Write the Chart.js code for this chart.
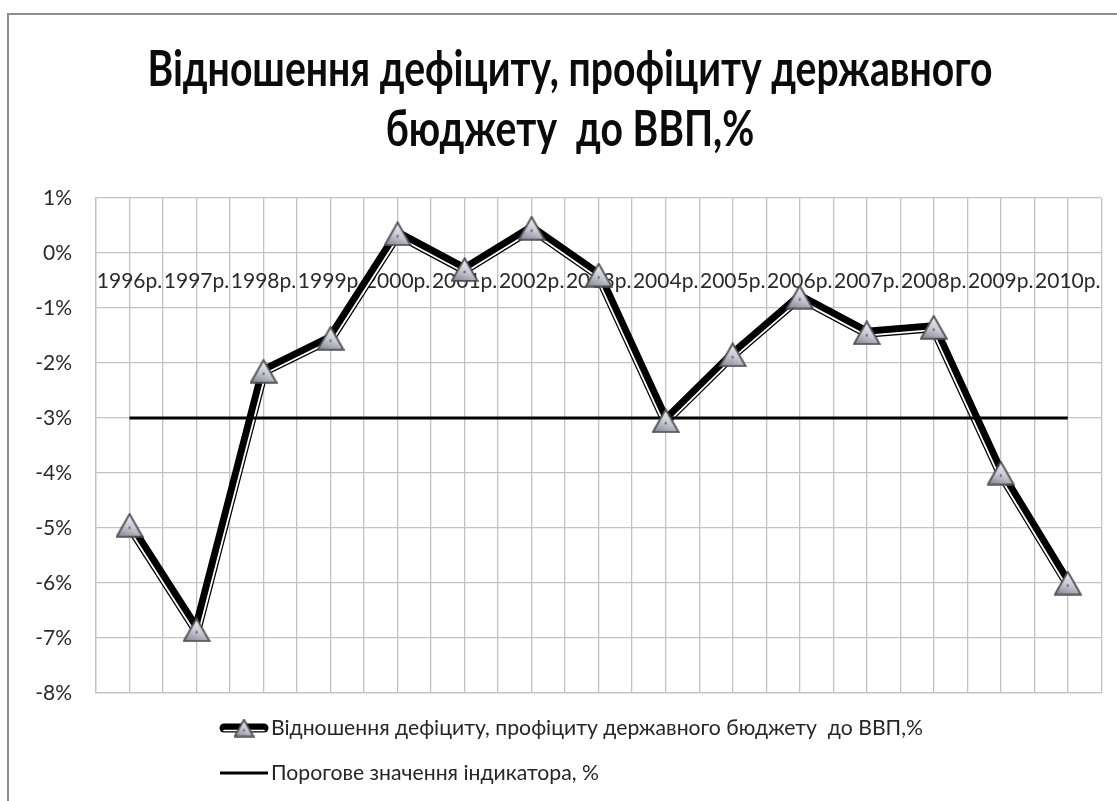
<!DOCTYPE html>
<html lang="uk">
<head>
<meta charset="UTF-8">
<title>Відношення дефіциту, профіциту державного бюджету до ВВП</title>
<script src="https://cdn.jsdelivr.net/npm/chart.js"></script>
<style>
  html, body { margin: 0; padding: 0; background: #fff; overflow: hidden; }
  #wrap { position: relative; width: 1117px; height: 801px; }
  #frame { position: absolute; left: 7px; top: 13px; width: 1200px; height: 900px;
           border-left: 2px solid #8d8d8d; border-top: 2px solid #8d8d8d; pointer-events: none; }
</style>
</head>
<body>
<div id="wrap">
  <canvas id="chart"></canvas>
  <div id="frame"></div>
</div>
<script>
// --- data ---
var years = ['1996р.', '1997р.', '1998р.', '1999р.', '2000р.', '2001р.', '2002р.', '2003р.',
             '2004р.', '2005р.', '2006р.', '2007р.', '2008р.', '2009р.', '2010р.'];
var deficit = [-4.95, -6.85, -2.15, -1.55, 0.35, -0.3, 0.45, -0.4,
               -3.05, -1.85, -0.8, -1.45, -1.35, -4.0, -6.0];
var threshold = [-3, -3, -3, -3, -3, -3, -3, -3, -3, -3, -3, -3, -3, -3, -3];
var yMin = -8, yMax = 1, yStep = 1;

var seriesName = 'Відношення дефіциту, профіциту державного бюджету  до ВВП,%';
var thresholdName = 'Порогове значення індикатора, %';
var titleLines = ['Відношення дефіциту, профіциту державного', 'бюджету  до ВВП,%'];

var FONT = 'Lato, "Noto Sans", "DejaVu Sans", sans-serif';
var GRID = '#c2c2c2';

// triangle marker with a grey gradient (like the Excel one)
function makeTriangle(w, h) {
  var c = document.createElement('canvas');
  c.width = w; c.height = h;
  var g = c.getContext('2d');
  var grad = g.createLinearGradient(w * 0.6, 0, w * 0.3, h);
  grad.addColorStop(0, '#f6f6fa');
  grad.addColorStop(0.55, '#c8c8d2');
  grad.addColorStop(1, '#8a8a95');
  g.beginPath();
  g.moveTo(w / 2, 1.2);
  g.lineTo(w - 1.2, h - 1.2);
  g.lineTo(1.2, h - 1.2);
  g.closePath();
  g.fillStyle = grad;
  g.fill();
  g.lineWidth = 1.8;
  g.strokeStyle = '#4f4f55';
  g.stroke();
  g.fillStyle = '#6a6a78';
  g.fillRect(w / 2 - 1, h * 0.55, 2, 2.5);
  return c;
}
var triBig = makeTriangle(28, 25);
var triSmall = makeTriangle(21, 19);

// white stripe inside the thick line (compound line look)
var stripePlugin = {
  id: 'stripe',
  afterDatasetDraw: function(chart, args) {
    if (args.index !== 1) return;
    var pts = args.meta.data;
    var ctx = chart.ctx;
    var d = 2.8;
    function nrm(a, b) {
      var dx = b.x - a.x, dy = b.y - a.y, l = Math.hypot(dx, dy) || 1;
      return { x: -dy / l, y: dx / l };
    }
    ctx.save();
    ctx.beginPath();
    for (var i = 0; i < pts.length; i++) {
      var n1 = i > 0 ? nrm(pts[i - 1], pts[i]) : null;
      var n2 = i < pts.length - 1 ? nrm(pts[i], pts[i + 1]) : null;
      var m, k;
      if (n1 && n2) {
        m = { x: n1.x + n2.x, y: n1.y + n2.y };
        var ml = Math.hypot(m.x, m.y) || 1;
        m.x /= ml; m.y /= ml;
        k = d / Math.max(0.3, m.x * n1.x + m.y * n1.y);
      } else {
        m = n1 || n2; k = d;
      }
      var px = pts[i].x + m.x * k, py = pts[i].y + m.y * k;
      if (i === 0) ctx.moveTo(px, py); else ctx.lineTo(px, py);
    }
    ctx.strokeStyle = '#ffffff';
    ctx.lineWidth = 1.8;
    ctx.lineJoin = 'round';
    ctx.stroke();
    ctx.restore();
  }
};

// title, condensed to the width of the reference
var titlePlugin = {
  id: 'fitTitle',
  afterDraw: function(chart) {
    var ctx = chart.ctx;
    ctx.save();
    ctx.font = 'bold 50px ' + FONT;
    ctx.fillStyle = '#0b0b0b';
    ctx.textAlign = 'center';
    ctx.textBaseline = 'alphabetic';
    var sx = 845 / ctx.measureText(titleLines[0]).width;
    titleLines.forEach(function(line, i) {
      ctx.save();
      ctx.translate(570, 86 + i * 60);
      ctx.scale(sx, 1);
      ctx.fillText(line, 0, 0);
      ctx.restore();
    });
    ctx.restore();
  }
};

// legend: two rows, left aligned
var legendPlugin = {
  id: 'rowsLegend',
  afterDraw: function(chart) {
    var ctx = chart.ctx;
    var area = chart.chartArea;
    var ds = chart.data.datasets;
    var y1 = area.bottom + 35, y2 = area.bottom + 80;
    ctx.save();
    // row 1 symbol
    ctx.lineCap = 'round';
    ctx.strokeStyle = '#000';
    ctx.lineWidth = 9;
    ctx.beginPath(); ctx.moveTo(224, y1); ctx.lineTo(264, y1); ctx.stroke();
    ctx.strokeStyle = '#fff';
    ctx.lineWidth = 1.7;
    ctx.beginPath(); ctx.moveTo(224, y1 + 2.5); ctx.lineTo(264, y1 + 2.5); ctx.stroke();
    ctx.drawImage(triSmall, 244 - triSmall.width / 2, y1 - triSmall.height / 2);
    // row 2 symbol
    ctx.lineCap = 'butt';
    ctx.strokeStyle = '#000';
    ctx.lineWidth = 3;
    ctx.beginPath(); ctx.moveTo(220, y2); ctx.lineTo(268, y2); ctx.stroke();
    // texts
    ctx.font = '21px ' + FONT;
    ctx.fillStyle = '#262626';
    ctx.textAlign = 'left';
    ctx.textBaseline = 'middle';
    var sx = 652 / ctx.measureText(ds[0].label).width;
    [[ds[0].label, y1], [ds[2].label, y2]].forEach(function(r) {
      ctx.save();
      ctx.translate(271, r[1]);
      ctx.scale(sx, 1);
      ctx.fillText(r[0], 0, 0);
      ctx.restore();
    });
    ctx.restore();
  }
};

Chart.defaults.font.family = FONT;

new Chart(document.getElementById('chart'), {
  type: 'line',
  data: {
    labels: years,
    datasets: [
      {
        label: seriesName,
        data: deficit,
        showLine: false,
        pointStyle: triBig,
        pointRadius: 14,
        order: 1
      },
      {
        label: seriesName,
        data: deficit,
        borderColor: '#000',
        borderWidth: 10,
        borderJoinStyle: 'round',
        borderCapStyle: 'round',
        pointRadius: 0,
        tension: 0,
        order: 3
      },
      {
        label: thresholdName,
        data: threshold,
        borderColor: '#000',
        borderWidth: 3,
        pointRadius: 0,
        tension: 0,
        order: 2
      }
    ]
  },
  options: {
    responsive: true,
    maintainAspectRatio: false,
    animation: false,
    events: [],
    layout: { padding: { top: 198, left: 0, right: 11, bottom: 108 } },
    plugins: {
      legend: { display: false },
      title: { display: false },
      tooltip: { enabled: false }
    },
    scales: {
      x: {
        type: 'category',
        position: { y: 0 },
        offset: true,
        grid: { display: false, drawTicks: false },
        border: { display: false },
        ticks: {
          autoSkip: false, maxRotation: 0, minRotation: 0, padding: 16,
          color: '#2a2a2a', font: { size: 21 }
        }
      },
      xg: {
        axis: 'x',
        type: 'linear',
        position: 'bottom',
        min: -0.5, max: 14.5,
        ticks: { display: false, stepSize: 0.5, autoSkip: false, maxTicksLimit: 40 },
        grid: { color: GRID, lineWidth: 1.3, drawTicks: false },
        border: { color: GRID, width: 1.3 }
      },
      y: {
        min: yMin, max: yMax,
        ticks: {
          stepSize: yStep, padding: 24, color: '#2a2a2a', font: { size: 21 },
          callback: function(v) { return v + '%'; }
        },
        grid: { color: GRID, lineWidth: 1.3, drawTicks: false },
        border: { color: GRID, width: 1.3 },
        afterFit: function(scale) { scale.width = 96; }
      }
    }
  },
  plugins: [stripePlugin, titlePlugin, legendPlugin]
});
</script>
</body>
</html>
